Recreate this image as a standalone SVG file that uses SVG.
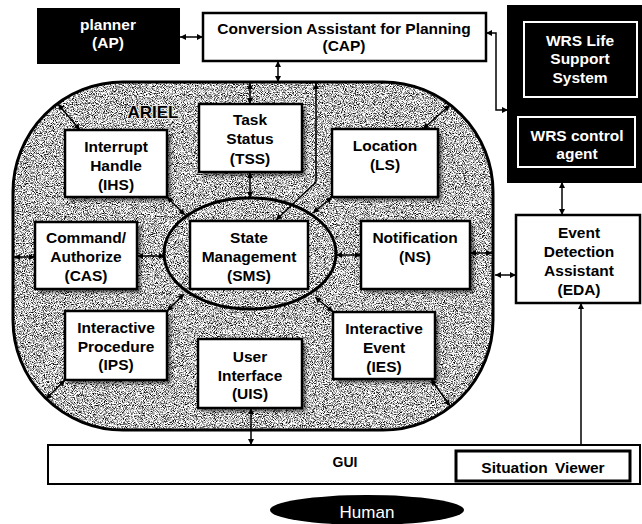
<svg xmlns="http://www.w3.org/2000/svg" width="642" height="524" viewBox="0 0 642 524">
<style>
  .box{fill:#fff;stroke:#000;stroke-width:2.5}
  .blk{fill:#000;stroke:#000;stroke-width:2}
  .inner{fill:#000;stroke:#fff;stroke-width:2}
  .t{font-family:"Liberation Sans",Arial,sans-serif;font-weight:bold;font-size:15.5px;text-anchor:middle;fill:#000}
  .w{fill:#fff}
  .sh{fill:#000;opacity:0.5;filter:url(#blur)}
  .c{fill:none;stroke:#000;stroke-width:1.5}
  .bi{marker-start:url(#ah);marker-end:url(#ah)}
  .e{marker-end:url(#ah)}
</style>
<defs>
  <marker id="ah" viewBox="0 0 10 10" refX="10" refY="5" markerWidth="7" markerHeight="6" markerUnits="userSpaceOnUse" orient="auto-start-reverse">
    <path d="M0,0 L10,5 L0,10 z" fill="#000"/>
  </marker>
  <filter id="grain" color-interpolation-filters="sRGB">
    <feTurbulence type="fractalNoise" baseFrequency="1.1" numOctaves="2" seed="7" result="noise"/>
    <feColorMatrix in="noise" type="matrix" values="1 0 0 0 0  1 0 0 0 0  1 0 0 0 0  0 0 0 0 1" result="g"/>
    <feComponentTransfer in="g" result="c">
      <feFuncR type="linear" slope="3" intercept="-0.75"/>
      <feFuncG type="linear" slope="3" intercept="-0.75"/>
      <feFuncB type="linear" slope="3" intercept="-0.75"/>
    </feComponentTransfer>
    <feComposite in="c" in2="SourceGraphic" operator="in"/>
  </filter>
  <filter id="blur" x="-20%" y="-20%" width="140%" height="140%">
    <feGaussianBlur stdDeviation="1.5"/>
  </filter>
</defs>
<rect width="642" height="524" fill="#fff"/>

<g id="ariel">
  <rect x="13" y="82" width="480" height="348" rx="110" ry="110" fill="#aaa" filter="url(#grain)"/>
  <rect x="13" y="82" width="480" height="348" rx="110" ry="110" fill="none" stroke="#000" stroke-width="3"/>
  <text class="t" x="153" y="118" style="font-size:17px" stroke="#e8e8e8" stroke-width="2" paint-order="stroke">ARIEL</text>
</g>

<g id="shadows">
  <rect class="sh" x="69" y="134" width="102" height="67"/>
  <rect class="sh" x="203" y="108" width="103" height="68"/>
  <rect class="sh" x="336" y="133" width="106" height="68"/>
  <rect class="sh" x="39" y="226" width="102" height="67"/>
  <rect class="sh" x="365" y="225" width="109" height="68"/>
  <rect class="sh" x="69" y="315" width="102" height="69"/>
  <rect class="sh" x="202" y="343" width="104" height="69"/>
  <rect class="sh" x="337" y="316" width="102" height="67"/>
</g>

<g id="connectors">
  <line class="c bi" x1="180" y1="37" x2="203" y2="37"/>
  <line class="c bi" x1="278" y1="61" x2="278" y2="82"/>
  <path class="c bi" d="M486,33 H496 V110 H508"/>
  <line class="c bi" x1="562" y1="182" x2="562" y2="215"/>
  <line class="c bi" x1="495" y1="275" x2="516" y2="275"/>
  <line class="c bi" x1="581" y1="303" x2="581" y2="451"/>
  <line class="c bi" x1="251" y1="408" x2="251" y2="445"/>
  <line class="c bi" x1="250" y1="83" x2="250" y2="104"/>
  <line class="c bi" x1="250" y1="172" x2="250" y2="198"/>
  <path class="c bi" d="M316,83 V182 L276,220"/>
  <line class="c bi" x1="167" y1="197" x2="185" y2="215"/>
  <line class="c bi" x1="332" y1="197" x2="313" y2="213"/>
  <line class="c bi" x1="167" y1="311" x2="184" y2="294"/>
  <line class="c bi" x1="333" y1="312" x2="315" y2="297"/>
  <line class="c bi" x1="137" y1="256" x2="165" y2="256"/>
  <line class="c bi" x1="336" y1="255" x2="361" y2="255"/>
  <line class="c bi" x1="470" y1="253" x2="492" y2="253"/>
  <line class="c bi" x1="14" y1="257" x2="35" y2="257"/>
  <line class="c bi" x1="58" y1="104" x2="80" y2="130"/>
  <line class="c bi" x1="423" y1="129" x2="450" y2="105"/>
  <line class="c bi" x1="65" y1="380" x2="46" y2="399"/>
  <line class="c bi" x1="431" y1="379" x2="450" y2="406"/>
</g>

<g id="ap">
  <rect class="blk" x="38" y="9" width="141" height="54"/>
  <text class="t w" x="108" y="30">planner</text>
  <text class="t w" x="108" y="48">(AP)</text>
</g>

<g id="cap">
  <rect class="box" x="203" y="13" width="283" height="48"/>
  <text class="t" x="344" y="34">Conversion Assistant for Planning</text>
  <text class="t" x="344" y="51">(CAP)</text>
</g>

<g id="wrs">
  <rect class="blk" x="508" y="6" width="133" height="176"/>
</g>
<g id="wrs-life">
  <rect class="inner" x="524" y="22" width="113" height="75"/>
  <text class="t w" x="580" y="46">WRS Life</text>
  <text class="t w" x="580" y="64">Support</text>
  <text class="t w" x="580" y="83">System</text>
</g>
<g id="wrs-agent">
  <rect class="inner" x="518" y="117" width="117" height="50"/>
  <text class="t w" x="577" y="141">WRS control</text>
  <text class="t w" x="577" y="159">agent</text>
</g>

<g id="eda">
  <rect class="box" x="516" y="215" width="124" height="88"/>
  <text class="t" x="579" y="238">Event</text>
  <text class="t" x="579" y="257">Detection</text>
  <text class="t" x="579" y="276">Assistant</text>
  <text class="t" x="579" y="295">(EDA)</text>
</g>

<g id="ihs">
  <rect class="box" x="65" y="130" width="102" height="67"/>
  <text class="t" x="116" y="152">Interrupt</text>
  <text class="t" x="116" y="171">Handle</text>
  <text class="t" x="116" y="190">(IHS)</text>
</g>

<g id="tss">
  <rect class="box" x="199" y="104" width="103" height="68"/>
  <text class="t" x="250" y="125">Task</text>
  <text class="t" x="250" y="144">Status</text>
  <text class="t" x="250" y="164">(TSS)</text>
</g>

<g id="ls">
  <rect class="box" x="332" y="129" width="106" height="68"/>
  <text class="t" x="385" y="151">Location</text>
  <text class="t" x="385" y="170">(LS)</text>
</g>

<g id="sms">
  <ellipse cx="250" cy="253.5" rx="86" ry="55.5" fill="none" stroke="#000" stroke-width="3"/>
  <rect class="box" x="190" y="221" width="118" height="68"/>
  <text class="t" x="249" y="243">State</text>
  <text class="t" x="249" y="262">Management</text>
  <text class="t" x="249" y="281">(SMS)</text>
</g>

<g id="cas">
  <rect class="box" x="35" y="222" width="102" height="67"/>
  <text class="t" x="86" y="243">Command/</text>
  <text class="t" x="86" y="262">Authorize</text>
  <text class="t" x="86" y="281">(CAS)</text>
</g>

<g id="ns">
  <rect class="box" x="361" y="221" width="109" height="68"/>
  <text class="t" x="415" y="243">Notification</text>
  <text class="t" x="415" y="262">(NS)</text>
</g>

<g id="ips">
  <rect class="box" x="65" y="311" width="102" height="69"/>
  <text class="t" x="116" y="333">Interactive</text>
  <text class="t" x="116" y="352">Procedure</text>
  <text class="t" x="116" y="370">(IPS)</text>
</g>

<g id="uis">
  <rect class="box" x="198" y="339" width="104" height="69"/>
  <text class="t" x="250" y="362">User</text>
  <text class="t" x="250" y="381">Interface</text>
  <text class="t" x="250" y="399">(UIS)</text>
</g>

<g id="ies">
  <rect class="box" x="333" y="312" width="102" height="67"/>
  <text class="t" x="384" y="334">Interactive</text>
  <text class="t" x="384" y="353">Event</text>
  <text class="t" x="384" y="372">(IES)</text>
</g>

<g id="gui">
  <rect x="48" y="445" width="592" height="39" fill="#fff" stroke="#000" stroke-width="2"/>
  <text class="t" x="345" y="467" style="font-size:14px">GUI</text>
</g>
<g id="situation-viewer">
  <rect x="456" y="451" width="174" height="30" fill="#fff" stroke="#000" stroke-width="3"/>
  <text class="t" x="543" y="473" style="word-spacing:3px">Situation Viewer</text>
</g>

<g id="human">
  <ellipse cx="367" cy="510" rx="97" ry="15" fill="#000"/>
  <text x="367" y="518" text-anchor="middle" fill="#fff" font-family="Liberation Sans, Arial, sans-serif" font-size="17">Human</text>
</g>
</svg>
